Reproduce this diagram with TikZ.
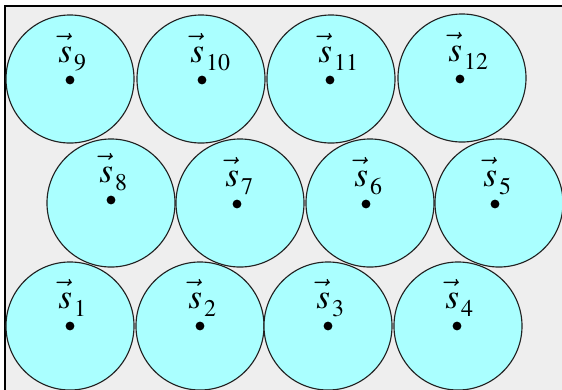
\documentclass[tikz,border=0pt]{standalone}
\usepackage{mathptmx}
\usetikzlibrary{positioning}
\definecolor{cellfill}{HTML}{AAFFFF}
\definecolor{panelbg}{HTML}{EEEEEE}
\definecolor{celledge}{HTML}{222222}
\newcommand\sitevec[1]{$\vec{\vphantom{t}s}$\kern1.5pt\raisebox{-6pt}{\fontsize{17}{19}\selectfont$\mathrm{#1}$}}
\tikzset{
  cell/.style={circle, draw=celledge, fill=cellfill, line width=0.8pt,
               minimum size=3.2cm, inner sep=0pt},
  site/.style={circle, fill=black, minimum size=0.22cm, inner sep=0pt},
  sitelabel/.style={anchor=base west, inner sep=0pt, font=\fontsize{25}{29}\selectfont},
  panel/.style={draw=black, fill=panelbg, line width=0.9pt},
}

\begin{document}
\begin{tikzpicture}[x=0.025cm, y=-0.025cm]

\useasboundingbox (0,0) rectangle (562,390);
\clip (0,0) rectangle (562,390);

%% ====================  PANEL  ====================

\draw[panel] (5,6) rectangle (580,410);

%% ====================  CELLS  ====================

% top row
\node[cell] (c9)  at (70,79)  {};
\node[cell] (c10) at (201,79) {};
\node[cell] (c11) at (331,79) {};
\node[cell] (c12) at (462,78) {};
% middle row
\node[cell] (c8)  at (111,203) {};
\node[cell] (c7)  at (240,203) {};
\node[cell] (c6)  at (370,203) {};
\node[cell] (c5)  at (499,203) {};
% bottom row
\node[cell] (c1)  at (70,326)  {};
\node[cell] (c2)  at (200,326) {};
\node[cell] (c3)  at (328,326) {};
\node[cell] (c4)  at (458,326) {};

%% ====================  SITES  ====================

\node[site] (s9)  at (70,80)  {};
\node[site] (s10) at (202,80) {};
\node[site] (s11) at (330,80) {};
\node[site] (s12) at (460,79) {};
\node[site] (s8)  at (111,200) {};
\node[site] (s7)  at (237,204) {};
\node[site] (s6)  at (366,204) {};
\node[site] (s5)  at (495,204) {};
\node[site] (s1)  at (70,326)  {};
\node[site] (s2)  at (200,326) {};
\node[site] (s3)  at (328,326) {};
\node[site] (s4)  at (457,326) {};

%% ====================  LABELS  ====================

\foreach \k in {1,...,12}{
  \node[sitelabel] (l\k) at ([shift={(-12,-18)}]s\k.center) {\sitevec{\k}};
}

\end{tikzpicture}
\end{document}
